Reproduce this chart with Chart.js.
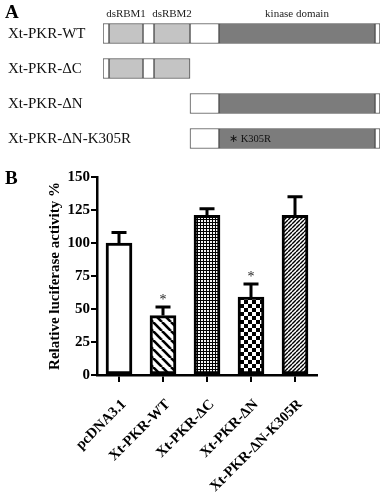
<!DOCTYPE html>
<html><head><meta charset="utf-8">
<script src="https://cdn.jsdelivr.net/npm/chart.js@4.4.1/dist/chart.umd.min.js"></script>
<style>
html,body{margin:0;padding:0;background:#fff;width:381px;height:500px;overflow:hidden;}
#wrapA{position:absolute;left:0;top:0;width:381px;height:160px;}
#wrapB{position:absolute;left:0;top:160px;width:381px;height:340px;}
.panel{position:absolute;font-family:'Liberation Serif',serif;font-weight:bold;font-size:19px;color:#000;z-index:5;}
</style></head>
<body>
<div class="panel" style="left:5px;top:1px;">A</div>
<div class="panel" style="left:5px;top:167px;">B</div>
<div id="wrapA"><canvas id="cA"></canvas></div>
<div id="wrapB"><canvas id="cB"></canvas></div>
<script>
// ---------- Panel A data (domain positions, arbitrary residue units) ----------
const constructs = ['Xt-PKR-WT', 'Xt-PKR-\u0394C', 'Xt-PKR-\u0394N', 'Xt-PKR-\u0394N-K305R'];
const segNterm  = [[0, 6],   [0, 6],   null,      null];
const segRBM1   = [[6, 40],  [6, 40],  null,      null];
const segLink1  = [[40, 51], [40, 51], null,      null];
const segRBM2   = [[51, 87], [51, 87], null,      null];
const segLink2  = [[87, 116], null,    [87, 116], [87, 116]];
const segKinase = [[116, 272], null,   [116, 272], [116, 272]];
const segCterm  = [[272, 277], null,   [272, 277], [272, 277]];
const domainNames = ['dsRBM1', 'dsRBM2', 'kinase domain'];
const domainCenters = [23, 69, 194];
const mutationLabel = '\u2217 K305R';
const mutationPos = 126;

// ---------- Panel B data ----------
const groups = ['pcDNA3.1', 'Xt-PKR-WT', 'Xt-PKR-\u0394C', 'Xt-PKR-\u0394N', 'Xt-PKR-\u0394N-K305R'];
const activity = [100, 45, 121, 59, 121];
const activityErr = [8, 6.5, 5, 10, 14];
const significant = [false, true, false, true, false];
const yTicks = [0, 25, 50, 75, 100, 125, 150];

const SERIF = "'Liberation Serif', 'Times New Roman', serif";

// ---------- Panel A chart ----------
const lightGray = '#c4c4c4', darkGray = '#7c7c7c', segBorder = '#505050';
function seg(data, color) {
  return {data: data, backgroundColor: color, borderColor: segBorder, borderWidth: 1,
          borderSkipped: false, barThickness: 20, grouped: false};
}
const labelPluginA = {
  id: 'labelsA',
  afterDatasetsDraw(chart) {
    const ctx = chart.ctx, xs = chart.scales.x, ys = chart.scales.y;
    ctx.save();
    ctx.fillStyle = '#111';
    ctx.font = '15px ' + SERIF;
    ctx.textAlign = 'left';
    ctx.textBaseline = 'middle';
    chart.data.labels.forEach((l, i) => ctx.fillText(l, 8, ys.getPixelForValue(i) + 1));
    ctx.fillStyle = '#222';
    ctx.font = '11px ' + SERIF;
    ctx.textAlign = 'center';
    domainNames.forEach((n, i) => ctx.fillText(n, xs.getPixelForValue(domainCenters[i]), 14));
    ctx.textAlign = 'left';
    ctx.fillStyle = '#111';
    ctx.font = '10.5px ' + SERIF;
    ctx.fillText(mutationLabel, xs.getPixelForValue(mutationPos), ys.getPixelForValue(3) + 1);
    ctx.restore();
  }
};
new Chart(document.getElementById('cA'), {
  type: 'bar',
  data: {
    labels: constructs,
    datasets: [
      seg(segNterm, '#ffffff'), seg(segRBM1, lightGray), seg(segLink1, '#ffffff'),
      seg(segRBM2, lightGray), seg(segLink2, '#ffffff'), seg(segKinase, darkGray),
      seg(segCterm, '#ffffff')
    ]
  },
  options: {
    indexAxis: 'y', responsive: true, maintainAspectRatio: false, animation: false,
    layout: {padding: {left: 8, right: 1, top: 16, bottom: 4}},
    plugins: {legend: {display: false}, tooltip: {enabled: false}},
    scales: {
      x: {display: false, min: 0, max: 277},
      y: {
        grid: {display: false}, border: {display: false},
        ticks: {display: false},
        afterFit(s) { s.width = 95; }
      }
    }
  },
  plugins: [labelPluginA]
});

// ---------- Patterns ----------
function makePattern(size, drawFn) {
  const c = document.createElement('canvas');
  c.width = size; c.height = size;
  const g = c.getContext('2d');
  g.fillStyle = '#fff'; g.fillRect(0, 0, size, size);
  drawFn(g, size);
  return g.createPattern(c, 'repeat');
}
const patWhite = '#ffffff';
const patBack = makePattern(9, (g, s) => {
  g.strokeStyle = '#000'; g.lineWidth = 2.6;
  for (let k = -1; k <= 1; k++) { g.beginPath(); g.moveTo(k * s, 0); g.lineTo(k * s + s, s); g.stroke(); }
});
const patFine = makePattern(3, (g) => {
  g.fillStyle = '#000'; g.fillRect(0, 0, 3, 3);
  g.fillStyle = '#f4f4f4'; g.fillRect(0, 0, 2, 2);
});
const patChecker = makePattern(8, (g) => {
  g.fillStyle = '#000'; g.fillRect(0, 0, 4, 4); g.fillRect(4, 4, 4, 4);
});
const patFwd = makePattern(4, (g, s) => {
  g.strokeStyle = '#000'; g.lineWidth = 1.4;
  for (let k = -1; k <= 1; k++) { g.beginPath(); g.moveTo(k * s, s); g.lineTo(k * s + s, 0); g.stroke(); }
});
const barFills = [patWhite, patBack, patFine, patChecker, patFwd];

// ---------- Panel B chart ----------
const errPlugin = {
  id: 'errbars',
  afterDatasetsDraw(chart) {
    const ctx = chart.ctx, ys = chart.scales.y;
    const meta = chart.getDatasetMeta(0);
    ctx.save();
    ctx.strokeStyle = '#000'; ctx.lineWidth = 3; ctx.lineCap = 'butt';
    meta.data.forEach((bar, i) => {
      const yTop = ys.getPixelForValue(activity[i] + activityErr[i]);
      ctx.beginPath();
      ctx.moveTo(bar.x, bar.y); ctx.lineTo(bar.x, yTop);
      ctx.moveTo(bar.x - 7.5, yTop); ctx.lineTo(bar.x + 7.5, yTop);
      ctx.stroke();
      if (significant[i]) {
        ctx.fillStyle = '#222';
        ctx.font = '14px ' + SERIF;
        ctx.textAlign = 'center'; ctx.textBaseline = 'alphabetic';
        ctx.fillText('*', bar.x, yTop - 3);
      }
    });
    ctx.restore();
  }
};
new Chart(document.getElementById('cB'), {
  type: 'bar',
  data: {
    labels: groups,
    datasets: [{
      data: activity, backgroundColor: barFills, borderColor: '#000', borderWidth: 3,
      borderSkipped: false, barThickness: 26
    }]
  },
  options: {
    responsive: true, maintainAspectRatio: false, animation: false,
    layout: {padding: {left: 46, right: 64, top: 17, bottom: 0}},
    plugins: {legend: {display: false}, tooltip: {enabled: false}},
    scales: {
      y: {
        min: 0, max: 150,
        afterBuildTicks(s) { s.ticks = yTicks.map(v => ({value: v})); },
        grid: {drawOnChartArea: false, drawTicks: true, tickLength: 6, color: '#000', lineWidth: 2},
        border: {display: true, color: '#000', width: 2.5},
        ticks: {color: '#000', font: {family: SERIF, size: 15, weight: 'bold'}, padding: 1},
        title: {display: true, text: 'Relative luciferase activity %', color: '#000',
                font: {family: SERIF, size: 15, weight: 'bold'}, padding: 0},
        afterFit(s) { s.width = 51; }
      },
      x: {
        grid: {drawOnChartArea: false, drawTicks: true, tickLength: 7, color: '#000', lineWidth: 2, offset: false},
        border: {display: true, color: '#000', width: 2.5},
        ticks: {color: '#000', font: {family: SERIF, size: 14.5, weight: 'bold'}, maxRotation: 45, minRotation: 45,
                padding: 14, labelOffset: 5},
        afterFit(s) { s.height = 125; }
      }
    }
  },
  plugins: [errPlugin]
});
</script>
</body></html>
